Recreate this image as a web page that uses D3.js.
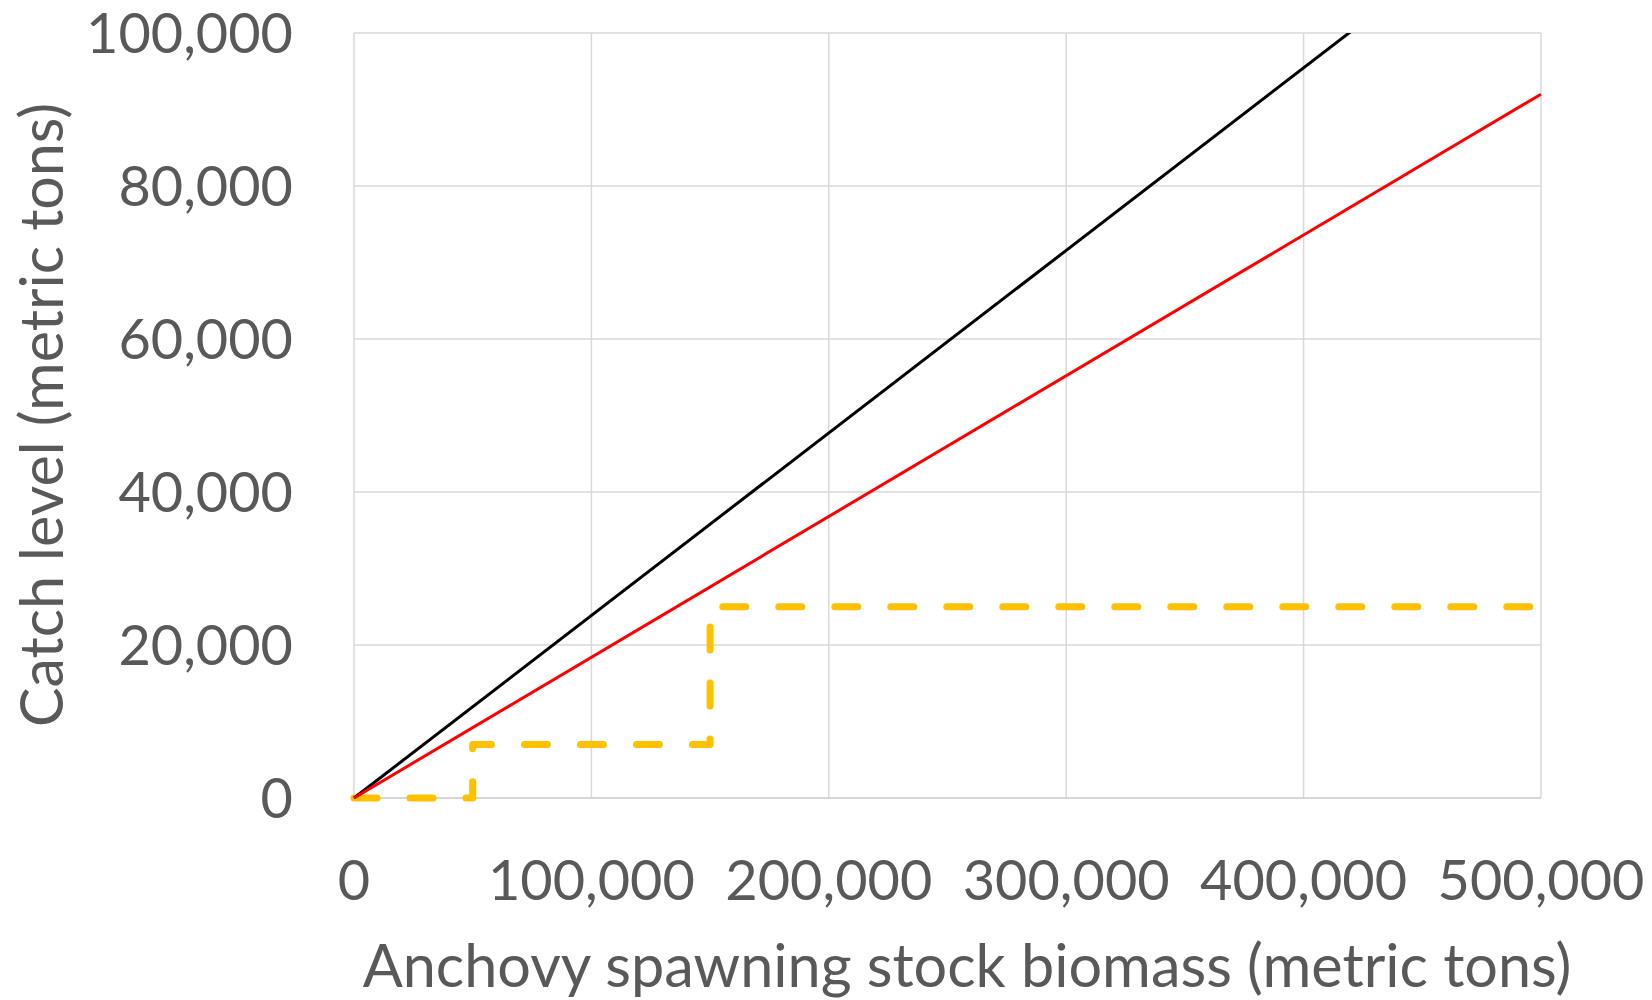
<!DOCTYPE html>
<html><head><meta charset="utf-8">
<script src="https://cdn.jsdelivr.net/npm/d3@7"></script>
<style>body{margin:0;background:#fff}svg{display:block}text{font-family:Lato,"Open Sans",sans-serif;fill:#595959}</style>
</head><body><svg id="c" width="1652" height="1000"></svg>
<script>
const xTicks = [0, 100000, 200000, 300000, 400000, 500000];
const yTicks = [0, 20000, 40000, 60000, 80000, 100000];
const blackLine = [[0, 0], [500000, 119300]];
const redLine = [[0, 0], [500000, 92000]];
const yellowStep = [[0, 0], [50000, 0], [50000, 7000], [150000, 7000], [150000, 25000], [500000, 25000]];
const xTitle = "Anchovy spawning stock biomass (metric tons)";
const yTitle = "Catch level (metric tons)";

const svg = d3.select("#c");
const L = 354, R = 1541, T = 33, B = 798;
const x = d3.scaleLinear().domain([0, 500000]).range([L, R]);
const y = d3.scaleLinear().domain([0, 100000]).range([B, T]);
const fmt = d3.format(",");

// gridlines
svg.append("g").selectAll("line").data(yTicks.filter(d => d > 0)).join("line")
  .attr("x1", L).attr("x2", R).attr("y1", d => y(d)).attr("y2", d => y(d))
  .attr("stroke", "#d9d9d9").attr("stroke-width", 1.5);
svg.append("g").selectAll("line").data(xTicks).join("line")
  .attr("x1", d => x(d)).attr("x2", d => x(d)).attr("y1", T).attr("y2", B)
  .attr("stroke", "#d9d9d9").attr("stroke-width", 1.5);
svg.append("line").attr("x1", L).attr("x2", R).attr("y1", y(0)).attr("y2", y(0))
  .attr("stroke", "#c8c8c8").attr("stroke-width", 1.5);

const clip = svg.append("clipPath").attr("id", "pc").append("rect")
  .attr("x", L - 10).attr("y", T).attr("width", R - L + 20).attr("height", B - T + 20);

const line = d3.line().x(d => x(d[0])).y(d => y(d[1]));
const g = svg.append("g").attr("clip-path", "url(#pc)");
g.append("path").attr("d", line(yellowStep)).attr("fill", "none")
  .attr("stroke", "#ffc000").attr("stroke-width", 7).attr("stroke-linecap", "round")
  .attr("stroke-linejoin", "round").attr("stroke-dasharray", "23,33");
g.append("path").attr("d", line(blackLine)).attr("fill", "none")
  .attr("stroke", "#000").attr("stroke-width", 3);
g.append("path").attr("d", line(redLine)).attr("fill", "none")
  .attr("stroke", "#ff0000").attr("stroke-width", 3);

function fit(sel, target) {
  const w = sel.node().getComputedTextLength();
  const fs = parseFloat(sel.attr("font-size"));
  sel.attr("font-size", fs * target / w);
}

// y tick labels
const yl = svg.append("g").selectAll("text").data(yTicks).join("text")
  .attr("x", 293).attr("y", d => y(d)).attr("dy", "0.36em")
  .attr("text-anchor", "end").attr("font-size", 56).text(d => fmt(d));
const ref = yl.filter(d => d === 100000);
fit(ref, 207);
const tfs = ref.attr("font-size");
yl.attr("font-size", tfs);

// x tick labels
svg.append("g").selectAll("text").data(xTicks).join("text")
  .attr("x", d => x(d)).attr("y", 880).attr("dy", "0.36em")
  .attr("text-anchor", "middle").attr("font-size", tfs).text(d => fmt(d));

// titles
const xt = svg.append("text").attr("x", 967).attr("y", 966).attr("dy", "0.36em")
  .attr("text-anchor", "middle").attr("font-size", 56).text(xTitle);
fit(xt, 1209);
const yt = svg.append("text").attr("transform", "translate(42,415) rotate(-90)")
  .attr("dy", "0.36em").attr("text-anchor", "middle").attr("font-size", 56).text(yTitle);
fit(yt, 624);
</script></body></html>
